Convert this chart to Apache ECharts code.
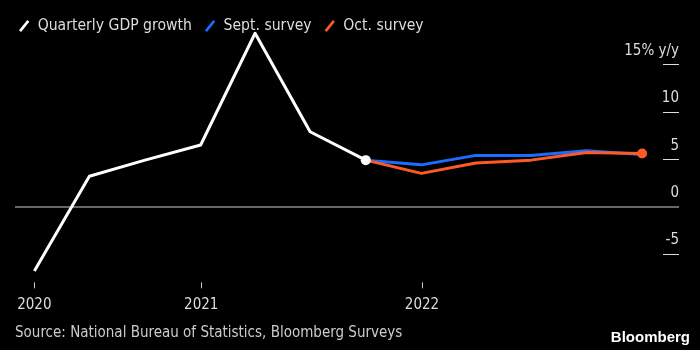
<!DOCTYPE html>
<html>
<head>
<meta charset="utf-8">
<script src="https://cdn.jsdelivr.net/npm/echarts@6/dist/echarts.min.js"></script>
<style>
  html, body { margin: 0; padding: 0; background: #000; }
  #chart { width: 700px; height: 350px; }
</style>
</head>
<body>
<div id="chart"></div>
<script>
// quarter end dates
var quarters = ['2020-03-31', '2020-06-30', '2020-09-30', '2020-12-31',
                '2021-03-31', '2021-06-30', '2021-09-30', '2021-12-31',
                '2022-03-31', '2022-06-30', '2022-09-30', '2022-12-31'];
var gdpGrowth = [-6.8, 3.2, 4.9, 6.5, 18.3, 7.9, 4.9, null, null, null, null, null];
var septSurvey = [null, null, null, null, null, null, 4.9, 4.4, 5.4, 5.4, 5.9, 5.5];
var octSurvey = [null, null, null, null, null, null, 4.9, 3.5, 4.6, 4.9, 5.7, 5.6];
var yearTicks = ['2020-03-31', '2021-01-01', '2022-01-01'];
var yTicks = [-5, 0, 5, 10, 15];

var FONT = 'DejaVu Sans Condensed';
function ts(s) { var p = s.split('-'); return Date.UTC(+p[0], +p[1] - 1, +p[2]); }

// build [x, y] pairs; dotAt = index that gets an end dot
function pairs(vals, dotAt) {
    var out = [];
    for (var i = 0; i < vals.length; i++) {
        if (vals[i] === null) continue;
        var item = { value: [ts(quarters[i]), vals[i]] };
        if (i === dotAt) { item.symbol = 'circle'; item.symbolSize = 10; }
        out.push(item);
    }
    return out;
}

var slash = 'path://M0,10 L8,0 L10,1.6 L2,11.6 Z';

var myChart = echarts.init(document.getElementById('chart'));
myChart.setOption({
    backgroundColor: '#000',
    animation: false,
    textStyle: { fontFamily: FONT },
    legend: {
        left: 14, top: 13,
        itemWidth: 11, itemHeight: 12, itemGap: 13,
        data: [
            { name: 'Quarterly GDP growth', icon: slash, itemStyle: { color: '#fff' } },
            { name: 'Sept. survey', icon: slash, itemStyle: { color: '#1a6dff' } },
            { name: 'Oct. survey', icon: slash, itemStyle: { color: '#ff5a26' } }
        ],
        textStyle: { color: '#ddd', fontSize: 15.6, fontFamily: FONT, padding: [0, 0, 0, 3] }
    },
    grid: { left: 15, right: 21, top: 26.6, bottom: 67.7 },
    xAxis: {
        type: 'value',
        min: Date.UTC(2020, 1, 28),
        max: Date.UTC(2023, 2, 2),
        axisLine: { show: false, onZero: false },
        splitLine: { show: false },
        axisTick: {
            show: true, length: 6,
            customValues: yearTicks.map(ts),
            lineStyle: { color: '#ccc', width: 1 }
        },
        axisLabel: {
            customValues: yearTicks.map(ts),
            formatter: function (v) { return new Date(v).getUTCFullYear(); },
            color: '#ddd', fontSize: 15, margin: 15
        }
    },
    yAxis: {
        type: 'value',
        position: 'right',
        min: -8, max: 19,
        axisLine: { show: false },
        splitLine: { show: false },
        axisTick: {
            show: true, inside: true, length: 16,
            customValues: [-5, 5, 10, 15],
            lineStyle: { color: '#ddd', width: 1 }
        },
        axisLabel: {
            inside: true, margin: 0,
            customValues: yTicks,
            formatter: function (v) { return v === 15 ? '15% y/y' : String(v); },
            color: '#ddd', fontSize: 15,
            verticalAlign: 'bottom', lineHeight: 17, padding: [0, 0, 5, 0]
        }
    },
    series: [
        {
            name: 'Sept. survey', type: 'line', z: 3,
            symbol: 'none', showSymbol: true,
            lineStyle: { color: '#1a6dff', width: 3, join: 'round' },
            itemStyle: { color: '#1a6dff' },
            data: pairs(septSurvey, -1)
        },
        {
            name: 'Oct. survey', type: 'line', z: 4,
            symbol: 'none', showSymbol: true,
            lineStyle: { color: '#ff5a26', width: 3, join: 'round' },
            itemStyle: { color: '#ff5a26' },
            data: pairs(octSurvey, octSurvey.length - 1)
        },
        {
            name: 'Quarterly GDP growth', type: 'line', z: 5,
            symbol: 'none', showSymbol: true,
            lineStyle: { color: '#fff', width: 3, join: 'round' },
            itemStyle: { color: '#fff' },
            data: pairs(gdpGrowth, 6),
            markLine: {
                silent: true, symbol: ['none', 'none'],
                label: { show: false },
                lineStyle: { color: '#888', type: 'solid', width: 1.5 },
                data: [{ yAxis: 0 }]
            }
        }
    ],
    graphic: [
        {
            type: 'text', left: 15, top: 326,
            style: { text: 'Source: National Bureau of Statistics, Bloomberg Surveys',
                     fill: '#ccc', fontSize: 15, fontFamily: FONT }
        },
        {
            type: 'text', right: 10, top: 330,
            style: { text: 'Bloomberg', fill: '#fff', fontSize: 15,
                     fontWeight: 'bold', fontFamily: 'Liberation Sans' }
        }
    ]
});
window.onresize = function () { myChart.resize(); };
</script>
</body>
</html>
